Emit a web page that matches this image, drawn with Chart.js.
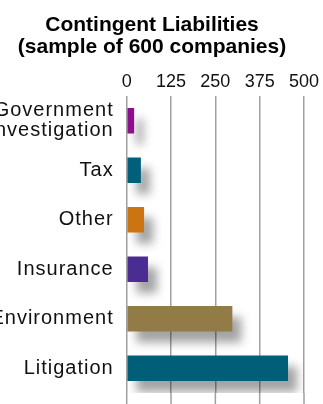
<!DOCTYPE html>
<html>
<head>
<meta charset="utf-8">
<script src="https://cdn.jsdelivr.net/npm/chart.js@4"></script>
<style>
  html, body { margin: 0; padding: 0; background: #fff; }
  #wrap { width: 323px; height: 404px; }
</style>
</head>
<body>
<div id="wrap"><canvas id="liabChart"></canvas></div>
<script>
// values (number of companies)
const categories = [['Government', 'Investigation'], 'Tax', 'Other', 'Insurance', 'Environment', 'Litigation'];
const companies = [21, 40, 49, 60, 298, 455];
const barColors = ['#8e0f8e', '#005f7a', '#cc7411', '#4a2c93', '#937b48', '#005e79'];
const tickValues = [0, 125, 250, 375, 500];

// soft drop shadow under the bars, like the print version
const barShadow = {
    id: 'barShadow',
    beforeDatasetsDraw(chart) {
        const ctx = chart.ctx;
        // grid lines keep running down past the last bar
        const xScale = chart.scales.x;
        ctx.save();
        ctx.strokeStyle = '#a0a0a0';
        ctx.lineWidth = 1.5;
        xScale.ticks.forEach((t) => {
            const px = xScale.getPixelForValue(t.value);
            ctx.beginPath();
            ctx.moveTo(px, chart.chartArea.bottom);
            ctx.lineTo(px, chart.height);
            ctx.stroke();
        });
        ctx.restore();

        ctx.save();
        ctx.shadowColor = 'rgba(0,0,0,0.36)';
        ctx.shadowOffsetX = 9;
        ctx.shadowOffsetY = 11;
        ctx.shadowBlur = 10;
    },
    afterDatasetsDraw(chart) {
        chart.ctx.restore();
        // y labels (drawn after this hook) are a bit spaced out
        chart.ctx.letterSpacing = '1px';
    },
    afterDraw(chart) {
        chart.ctx.letterSpacing = '0px';
    }
};

new Chart(document.getElementById('liabChart'), {
    type: 'bar',
    data: {
        labels: categories,
        datasets: [{
            data: companies,
            backgroundColor: barColors,
            borderWidth: 0,
            barPercentage: 0.52,
            categoryPercentage: 1
        }]
    },
    options: {
        indexAxis: 'y',
        responsive: true,
        maintainAspectRatio: false,
        animation: false,
        layout: {
            padding: { top: 0, right: 19, bottom: 11, left: 0 }
        },
        plugins: {
            legend: { display: false },
            tooltip: { enabled: false },
            title: {
                display: true,
                text: ['Contingent Liabilities', '(sample of 600 companies)'],
                color: '#000',
                font: { family: '"Liberation Sans", Arial, sans-serif', size: 21, weight: 'bold', lineHeight: 1.05 },
                padding: { top: 14, bottom: 10.3 }
            }
        },
        scales: {
            x: {
                position: 'top',
                min: 0,
                max: 500,
                afterBuildTicks: (scale) => {
                    scale.ticks = tickValues.map((v) => ({ value: v }));
                },
                grid: { color: '#a0a0a0', lineWidth: 1.5, drawTicks: false },
                border: { display: false },
                ticks: {
                    color: '#111',
                    padding: 3,
                    font: { family: '"Liberation Sans", Arial, sans-serif', size: 18 }
                }
            },
            y: {
                afterFit: (scale) => {
                    scale.width = 126.7;
                    // don't let the label heights eat into the plot area
                    scale.paddingTop = 0;
                    scale.paddingBottom = 0;
                },
                grid: { display: false, drawTicks: false },
                border: { display: false },
                ticks: {
                    z: 1,
                    autoSkip: false,
                    padding: 13,
                    color: '#111',
                    font: { family: '"Liberation Sans", Arial, sans-serif', size: 20, lineHeight: 1.0 }
                }
            }
        }
    },
    plugins: [barShadow]
});
</script>
</body>
</html>
